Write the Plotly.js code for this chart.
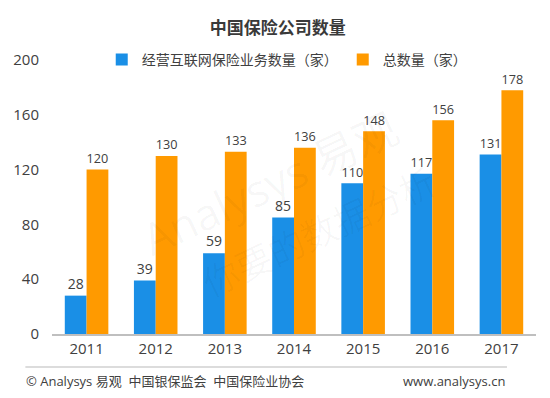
<!DOCTYPE html>
<html><head><meta charset="utf-8">
<script src="https://cdn.plot.ly/plotly-3.0.1.min.js"></script>
<style>html,body{margin:0;padding:0;background:#fff}</style>
</head><body>
<div id="chart" style="width:550px;height:398px"></div>
<script>
const years = ['2011','2012','2013','2014','2015','2016','2017'];
const internetInsurers = [28, 39, 59, 85, 110, 117, 131];
const totalInsurers = [120, 130, 133, 136, 148, 156, 178];
const seriesNames = ['经营互联网保险业务数量（家）', '总数量（家）'];

const FONT = '"Open Sans", "Noto Sans CJK SC", sans-serif';
const traces = [
  {type:'bar', name:seriesNames[0], x:years, y:internetInsurers, marker:{color:'#1a8fe6'},
   text:internetInsurers.map(String), textposition:'outside', cliponaxis:false,
   textfont:{size:14, color:'#404040', family:FONT}},
  {type:'bar', name:seriesNames[1], x:years, y:totalInsurers, marker:{color:'#ff9a00'},
   text:totalInsurers.map(String), textposition:'outside', cliponaxis:false,
   textfont:{size:14, color:'#404040', family:FONT}}
];
const layout = {
  width:550, height:398,
  margin:{l:52, r:14, t:60, b:64},
  paper_bgcolor:'#fff', plot_bgcolor:'rgba(0,0,0,0)',
  font:{family:FONT, color:'#595959', size:14},
  title:{text:'<b>中国保险公司数量</b>', x:0.505, xanchor:'center', y:0.93, yanchor:'middle',
         font:{size:17, color:'#3a3a3a', family:'"Noto Sans CJK SC", sans-serif'}},
  barmode:'group', bargap:0.37, bargroupgap:0,
  showlegend:true,
  legend:{orientation:'h', x:0.485, xanchor:'center', y:1.0, yanchor:'middle',
          font:{size:14, color:'#404040', family:'"Noto Sans CJK SC", sans-serif'}, itemsizing:'constant'},
  xaxis:{type:'category', showline:true, linecolor:'#bfbfbf', linewidth:1.5, ticks:'',
         tickfont:{size:15, color:'#404040'}, showgrid:false},
  yaxis:{range:[0,200], dtick:40, showgrid:false, zeroline:false, showline:false, ticks:'',
         tickfont:{size:15, color:'#404040'}, ticklabelstandoff:12},
  shapes:[{type:'line', xref:'paper', yref:'paper', x0:-0.055, x1:0.94, y0:-0.12, y1:-0.12,
           line:{color:'#d0d0d0', width:1.5}}],
  annotations:[
    {text:'© Analysys 易观  中国银保监会  中国保险业协会', xref:'paper', yref:'paper', x:-0.057, xanchor:'left',
     y:-0.17, yanchor:'middle', showarrow:false, font:{size:13, color:'#404040', family:FONT}},
    {text:'www.analysys.cn', xref:'paper', yref:'paper', x:0.94, xanchor:'right',
     y:-0.17, yanchor:'middle', showarrow:false, font:{size:13, color:'#404040', family:FONT}},
    {text:'Analysys 易观', xref:'paper', yref:'paper', x:0.45, y:0.55, showarrow:false, textangle:-25,
     font:{size:44, color:'rgba(0,0,0,0.035)', family:FONT}},
    {text:'你要的数据分析', xref:'paper', yref:'paper', x:0.55, y:0.38, showarrow:false, textangle:-25,
     font:{size:36, color:'rgba(0,0,0,0.03)', family:'"Noto Sans CJK SC", sans-serif'}}
  ]
};
Plotly.newPlot('chart', traces, layout, {displayModeBar:false, staticPlot:true});
</script>
</body></html>
